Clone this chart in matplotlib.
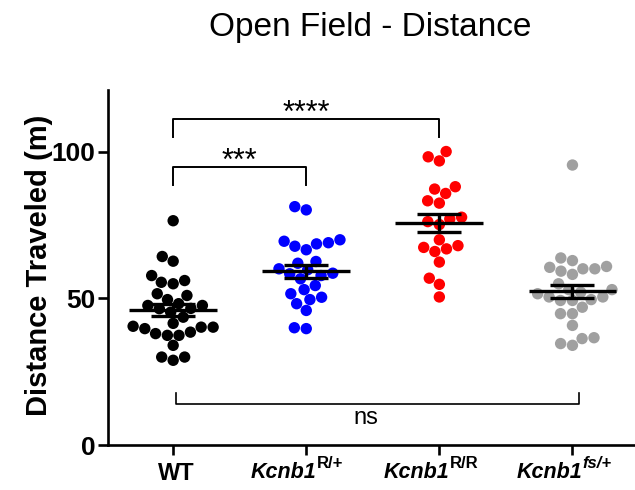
import numpy as np
import pandas as pd
import matplotlib
matplotlib.use("Agg")
import matplotlib.pyplot as plt
import seaborn as sns

plt.rcParams['font.family'] = ['Liberation Sans', 'DejaVu Sans']

# ---- data ----
groups = ["WT", "R/+", "R/R", "fs/+"]
label_base = ["WT", "Kcnb1", "Kcnb1", "Kcnb1"]
label_sup = ["", "R/+", "R/R", "fs/+"]
sup_italic = [False, False, False, True]
colors = ["#000000", "#0000FF", "#FF0000", "#A0A0A0"]

wt = [76.5, 64.3, 62.7, 57.8, 56.1, 55.5, 55.0, 51.6, 51.0, 49.6, 48.2, 47.6,
      47.6, 46.5, 45.3, 46.6, 43.6, 40.2, 40.2, 41.5, 37.4, 38.0, 37.4, 38.5,
      39.7, 40.5, 34.0, 28.9, 30.0, 30.0]
r_het = [81.3, 80.2, 69.0, 68.6, 67.8, 66.6, 69.5, 70.0, 62.6, 62.0, 58.4, 59.8,
         58.6, 60.1, 57.8, 56.7, 54.4, 53.0, 51.6, 49.6, 50.4, 48.2, 45.9, 39.7, 40.0]
r_hom = [100.1, 98.3, 96.9, 88.1, 87.3, 85.8, 83.3, 82.5, 77.1, 77.7, 75.2, 76.2,
         70.0, 66.0, 68.0, 66.9, 67.4, 62.4, 56.9, 54.8, 50.5]
fs_het = [95.5, 63.8, 62.9, 59.3, 60.1, 60.6, 58.2, 60.1, 60.9, 55.0, 53.0, 50.5,
          52.1, 51.6, 53.0, 50.5, 49.3, 49.6, 49.3, 47.0, 44.8, 44.8, 40.8, 34.0,
          36.6, 34.6, 36.3]
series = [wt, r_het, r_hom, fs_het]

y_ticks = [0, 50, 100]
sig_pairs = [(0, 2, "****"), (0, 1, "***")]
sig_heights = [111.2, 94.7]
ns_pair = (0, 3, "ns")

df = pd.DataFrame({
    "group": np.concatenate([[g] * len(v) for g, v in zip(groups, series)]),
    "value": np.concatenate(series),
})

fig = plt.figure(figsize=(6.35, 4.9), dpi=100)
ax = fig.add_axes([0.170, 0.0918, 0.83, 0.724])

sns.swarmplot(data=df, x="group", y="value", order=groups, hue="group",
              palette=dict(zip(groups, colors)), size=8.2, ax=ax, legend=False,
              linewidth=0, zorder=2)

for i, v in enumerate(series):
    v = np.asarray(v)
    m = v.mean()
    sem = v.std(ddof=1) / np.sqrt(len(v))
    ax.hlines(m, i - 0.33, i + 0.33, color="black", lw=2.4, zorder=5)
    ax.errorbar(i, m, yerr=sem, color="black", capsize=15.5, capthick=2.4,
                elinewidth=2.4, fmt="none", zorder=5)

# significance brackets
for (a, b, lab), h in zip(sig_pairs, sig_heights):
    ax.plot([a, a, b, b], [h - 6.0, h, h, h - 6.0], color="black", lw=1.4,
            zorder=4, clip_on=False)
    ax.text((a + b) / 2, h - 3.4, lab, ha="center", va="bottom", fontsize=22)

a, b, lab = ns_pair
ax.plot([a + 0.02, a + 0.02, b + 0.05, b + 0.05], [17.7, 14, 14, 17.7], color="black",
        lw=1.2, zorder=4)
ax.text((a + b) / 2 - 0.05, 12.8, lab, ha="center", va="top", fontsize=17)

ax.set_xlim(-0.49, 3.47)
ax.set_ylim(0, 121)
ax.set_yticks(y_ticks)
ax.set_xticks(range(len(groups)))
ax.set_xticklabels([])
ax.set_yticklabels([str(t) for t in y_ticks], fontsize=19, fontweight="bold")
ax.set_xlabel("")
ax.set_ylabel("Distance Traveled (m)", fontsize=21, fontweight="bold")
ax.yaxis.set_label_coords(-0.105, 0.507)

# x tick labels built from base + superscript
for i, (base, sup, sit) in enumerate(zip(label_base, label_sup, sup_italic)):
    if not sup:
        ax.annotate(base, xy=(i, 0), xycoords=("data", "axes fraction"),
                    xytext=(2.5, -12), textcoords="offset points",
                    ha="center", va="top", fontsize=17, fontweight="bold")
        continue
    t = ax.annotate(base, xy=(i, 0), xycoords=("data", "axes fraction"),
                    xytext=(7.0, -12), textcoords="offset points",
                    ha="right", va="top", fontsize=15.5, fontweight="bold",
                    fontstyle="italic")
    ax.annotate(sup, xy=(1, 1), xycoords=t, xytext=(0.3, 4.0),
                textcoords="offset points", ha="left", va="top",
                fontsize=12, fontweight="bold",
                fontstyle="italic" if sit else "normal")

for s in ["top", "right"]:
    ax.spines[s].set_visible(False)
for s in ["left", "bottom"]:
    ax.spines[s].set_linewidth(1.9)
ax.tick_params(axis="both", direction="out", length=7, width=1.9)
ax.tick_params(axis="y", pad=2)

fig.text(0.583, 0.943, "Open Field - Distance", ha="center", va="center", fontsize=24)

fig.savefig("out.png", dpi=100)
